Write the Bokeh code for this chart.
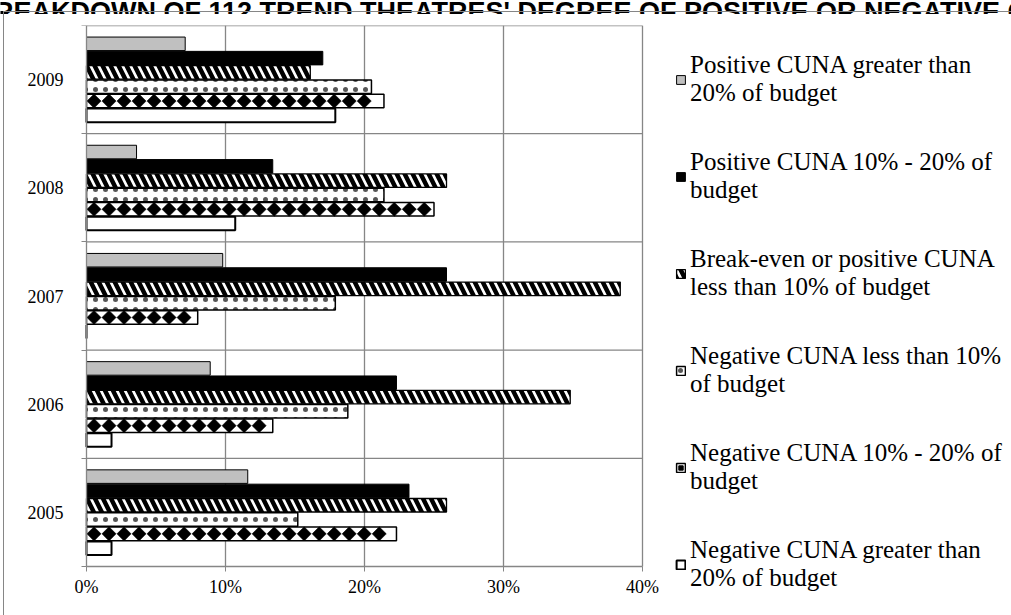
import numpy as np
from bokeh.plotting import figure
from bokeh.layouts import column, row
from bokeh.models import (FixedTicker, Legend, LegendItem, ColumnDataSource, Range1d,
                          InlineStyleSheet, Label)
from bokeh.embed import file_html
from bokeh.resources import INLINE

# ---------------- data ----------------
years = ["2005", "2006", "2007", "2008", "2009"]
series_labels = [
    "Positive CUNA greater than\n20% of budget",
    "Positive CUNA 10% - 20% of\nbudget",
    "Break-even or positive CUNA\nless than 10% of budget",
    "Negative CUNA less than 10%\nof budget",
    "Negative CUNA 10% - 20% of\nbudget",
    "Negative CUNA greater than\n20% of budget",
]
pos_gt20 = [11.6, 8.9, 9.8, 3.6, 7.1]
pos_10_20 = [23.2, 22.3, 25.9, 13.4, 17.0]
breakeven = [25.9, 34.8, 38.4, 25.9, 16.1]
neg_lt10 = [15.2, 18.8, 17.9, 21.4, 20.5]
neg_10_20 = [22.3, 13.4, 8.0, 25.0, 21.4]
neg_gt20 = [1.8, 1.8, 0.0, 10.7, 17.9]
x_ticks = [0, 10, 20, 30, 40]
x_tick_labels = ["0%", "10%", "20%", "30%", "40%"]
title_text = "BREAKDOWN OF 112 TREND THEATRES' DEGREE OF POSITIVE OR NEGATIVE CUNA"

all_series = [pos_gt20, pos_10_20, breakeven, neg_lt10, neg_10_20, neg_gt20]

GRID = "#868686"
SERIF = "Liberation Serif"

styles = [
    dict(fill_color="#C0C0C0", line_color="black", line_width=1),
    dict(fill_color="black", line_color="black", line_width=1),
    dict(fill_color="white", line_color="black", line_width=1.3,
         hatch_pattern="left_diagonal_line", hatch_color="black", hatch_scale=16, hatch_weight=4.5),
    dict(fill_color="white", line_color="black", line_width=1.5,
         hatch_pattern="dot", hatch_color="#555555", hatch_scale=10, hatch_weight=1),
    dict(fill_color="white", line_color="black", line_width=1.5),
    dict(fill_color="white", line_color="black", line_width=2),
]

# ---------------- title strip ----------------
TITLE_H = 14
tfig = figure(width=1011, height=TITLE_H, x_range=Range1d(0, 1011), y_range=Range1d(TITLE_H, 0),
              x_axis_location=None, y_axis_location=None, title_location=None,
              output_backend="svg", toolbar_location=None, min_border=0)
tfig.outline_line_color = None
tfig.grid.visible = False
tfig.add_layout(Label(x=-26, y=11, text=title_text, text_font="Liberation Sans",
                      text_font_style="bold", text_font_size="27px",
                      text_baseline="alphabetic", text_color="black"))

# ---------------- main chart (frame fills the canvas; axes fixed inside it) ----
W, H = 1011, 615 - TITLE_H
PLOT_L, PLOT_R, PLOT_T, PLOT_B = 86, 642, 25, 566   # page pixels of the plot area
px_per_x = (PLOT_R - PLOT_L) / 40.0
px_per_y = (PLOT_B - PLOT_T) / 5.0
x_start = -PLOT_L / px_per_x
x_end = (W - PLOT_L) / px_per_x
y_start = -(615 - PLOT_B) / px_per_y

p = figure(width=W, height=H, x_range=Range1d(x_start, x_end), y_range=Range1d(y_start, 5),
           output_backend="svg", toolbar_location=None, title_location=None,
           min_border_left=0, min_border_right=0, min_border_top=PLOT_T - TITLE_H,
           min_border_bottom=0)
p.background_fill_color = "white"
p.border_fill_color = "white"
p.outline_line_color = None
p.xgrid.visible = False
p.ygrid.visible = False

# grid lines of the plot area
y_bounds = [0, 1, 2, 3, 4, 5]
p.segment(x0=x_ticks[1:], y0=[0] * 4, x1=x_ticks[1:], y1=[5] * 4,
          line_color=GRID, line_width=1.3)
p.segment(x0=[0] * 5, y0=y_bounds[1:], x1=[40] * 5, y1=y_bounds[1:],
          line_color=GRID, line_width=1.3)

pitch = 0.1323
bar_h = 0.125

renderers = []
for j, vals in enumerate(all_series):
    ys = [i + 0.5 + (2.5 - j) * pitch for i in range(len(years))]
    src = ColumnDataSource(dict(y=ys, right=vals))
    r = p.hbar(y="y", right="right", left=0, height=bar_h, source=src, **styles[j])
    renderers.append([r])

# diamond pattern for the "Negative CUNA 10% - 20%" bars
dx, dy = [], []
step = 1.08
for i, v in enumerate(neg_10_20):
    yc = i + 0.5 + (2.5 - 4) * pitch
    for xc in np.arange(step / 2, v - 0.4, step):
        dx.append(xc)
        dy.append(yc)
p.scatter(dx, dy, marker="square", angle=np.pi / 4, size=10,
          fill_color="black", line_color="black", line_width=0.5)
# small legend swatch marker (kept outside the visible range)
sw = p.scatter([-100], [-100], marker="square", angle=np.pi / 4, size=5,
               fill_color="black", line_color="black")
renderers[4].append(sw)

# axes, drawn at the data origin
p.xaxis.fixed_location = 0
p.xaxis.bounds = (0, 40)
p.xaxis.ticker = FixedTicker(ticks=x_ticks)
p.xaxis.major_label_overrides = {t: l for t, l in zip(x_ticks, x_tick_labels)}
p.xaxis.minor_tick_line_color = None
p.xaxis.major_tick_line_color = GRID
p.xaxis.major_tick_in = 0
p.xaxis.major_tick_out = 5
p.xaxis.major_label_standoff = 5

centers = [i + 0.5 for i in range(len(years))]
p.yaxis.fixed_location = 0
p.yaxis.bounds = (0, 5)
p.yaxis.ticker = FixedTicker(ticks=centers, minor_ticks=y_bounds)
p.yaxis.major_label_overrides = {c: y for c, y in zip(centers, years)}
p.yaxis.major_tick_line_color = None
p.yaxis.minor_tick_line_color = GRID
p.yaxis.minor_tick_in = 0
p.yaxis.minor_tick_out = 5
p.yaxis.major_label_standoff = 17

for ax in (p.xaxis, p.yaxis):
    ax.axis_line_color = GRID
    ax.axis_line_width = 1.3
    ax.major_label_text_font = SERIF
    ax.major_label_text_font_size = "18px"
    ax.major_label_text_color = "black"

# legend
items = [LegendItem(label=lab, renderers=rs) for lab, rs in zip(series_labels, renderers)]
legend = Legend(items=items, location=(675, 23), label_text_font=SERIF,
                label_text_font_size="25px", label_text_color="black",
                glyph_width=11, glyph_height=11, spacing=41, padding=0, margin=0,
                border_line_color=None, background_fill_alpha=0, label_standoff=4,
                label_text_line_height=1.0)
p.add_layout(legend)

layout = column(tfig, row(p, spacing=0), spacing=0)
layout.stylesheets = [InlineStyleSheet(css=f"""
:host {{ position: relative; overflow: hidden; }}
:host::after {{ content: ''; position: absolute; left: 3px; top: 11px;
  width: 1100px; height: 800px; border: 1px solid {GRID}; pointer-events: none; }}
""")]

open("out.html", "w").write(file_html(layout, INLINE))
